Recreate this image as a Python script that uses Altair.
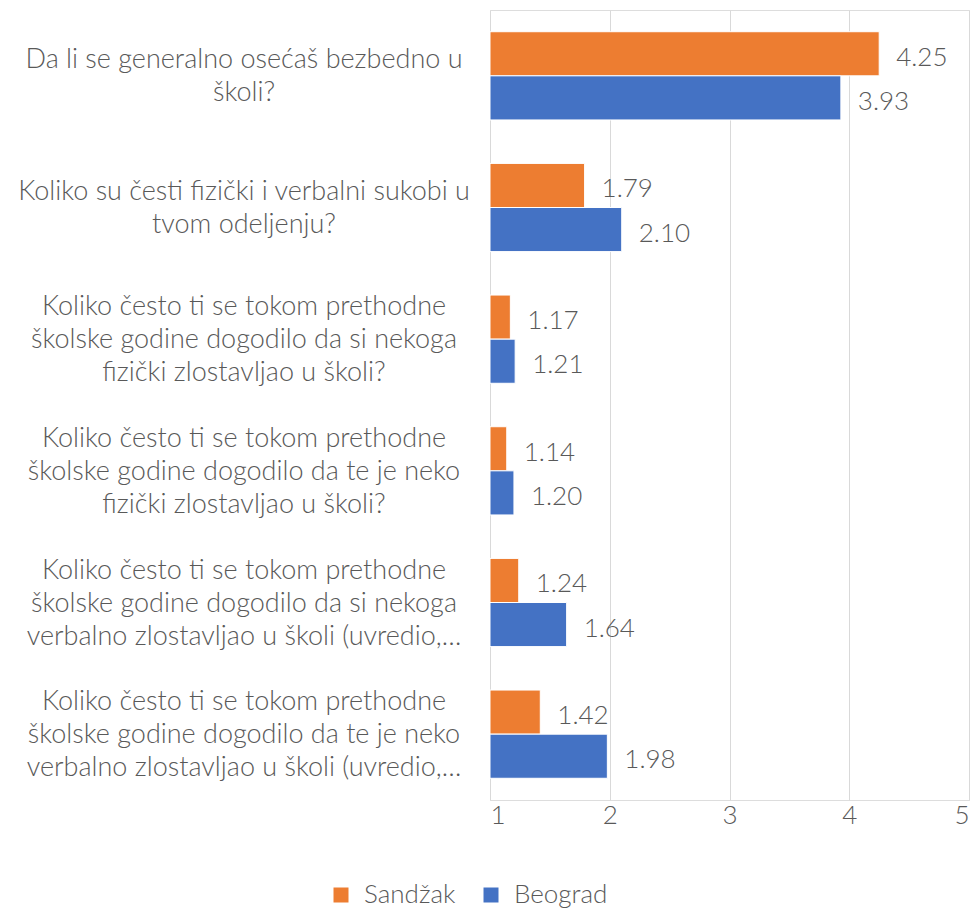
import altair as alt
import pandas as pd

categories = [
    "Da li se generalno osećaš bezbedno u|školi?",
    "Koliko su česti fizički i verbalni sukobi u|tvom odeljenju?",
    "Koliko često ti se tokom prethodne|školske godine dogodilo da si nekoga|fizički zlostavljao u školi?",
    "Koliko često ti se tokom prethodne|školske godine dogodilo da te je neko|fizički zlostavljao u školi?",
    "Koliko često ti se tokom prethodne|školske godine dogodilo da si nekoga|verbalno zlostavljao u školi (uvredio,…",
    "Koliko često ti se tokom prethodne|školske godine dogodilo da te je neko|verbalno zlostavljao u školi (uvredio,…",
]
series = ["Sandžak", "Beograd"]
sandzak = [4.25, 1.79, 1.17, 1.14, 1.24, 1.42]
beograd = [3.93, 2.10, 1.21, 1.20, 1.64, 1.98]
x_ticks = [1, 2, 3, 4, 5]
colors = ["#ED7D31", "#4472C4"]

rows = []
for c, s, b in zip(categories, sandzak, beograd):
    rows.append({"category": c, "series": series[0], "value": s})
    rows.append({"category": c, "series": series[1], "value": b})
df = pd.DataFrame(rows)
cat_df = pd.DataFrame({"category": categories, "nlines": [c.count("|") + 1 for c in categories]})

FONT = "Lato"
TXT = "#595959"
FS = 26
LH = 33

y_scale = alt.Scale(domain=categories, paddingInner=0.33, paddingOuter=0.165)
y_enc = alt.Y("category:N", sort=categories, scale=y_scale, axis=None)
x_enc = alt.X(
    "value:Q",
    scale=alt.Scale(domain=[1, 5], zero=False, nice=False),
    axis=alt.Axis(
        title=None, domain=False, ticks=False, grid=True, gridColor="#D9D9D9",
        values=x_ticks, format="d", labelFontSize=FS, labelColor=TXT,
        labelFont=FONT, labelFontWeight=300, labelPadding=2,
    ),
)
yoff = alt.YOffset("series:N", sort=series, scale=alt.Scale(paddingInner=0, paddingOuter=0))

bars = alt.Chart(df).mark_bar(stroke="white", strokeWidth=1).encode(
    y=y_enc,
    x=x_enc,
    x2=alt.datum(1),
    yOffset=yoff,
    color=alt.Color(
        "series:N",
        sort=series,
        scale=alt.Scale(domain=series, range=colors),
        legend=alt.Legend(
            title=None, orient="none", legendX=-162, legendY=872,
            direction="horizontal", symbolType="square", symbolSize=225,
            symbolStrokeWidth=0, labelFontSize=FS, labelColor=TXT,
            labelFont=FONT, labelFontWeight=300, columnPadding=22, labelOffset=10,
        ),
    ),
)

values = alt.Chart(df).mark_text(
    align="left", baseline="middle", dx=17, dy=4, fontSize=FS, color=TXT,
    font=FONT, fontWeight=300,
).encode(
    y=alt.Y("category:N", sort=categories, scale=y_scale),
    x=alt.X("value:Q"),
    yOffset=yoff,
    text=alt.Text("value:Q", format=".2f"),
)

def cat_labels(n):
    return (
        alt.Chart(cat_df)
        .transform_filter(alt.datum.nlines == n)
        .transform_calculate(lines="split(datum.category, '|')")
        .mark_text(
            align="center", baseline="middle", fontSize=27, color=TXT, font=FONT,
            fontWeight=300, lineHeight=LH, dy=-(n - 1) * LH / 2 + 1,
        )
        .encode(
            y=alt.Y("category:N", sort=categories, scale=y_scale),
            x=alt.value(-246),
            text=alt.Text("lines:N"),
        )
    )

chart = (
    alt.layer(bars, values, cat_labels(2), cat_labels(3))
    .properties(
        width=479,
        height=790,
        autosize=alt.AutoSizeParams(type="none"),
        padding={"left": 482, "top": 2, "right": 2, "bottom": 112},
    )
    .configure_view(stroke=None)
    .configure(font=FONT)
)

chart.save("out.html", embed_options={"renderer": "svg", "actions": False})
